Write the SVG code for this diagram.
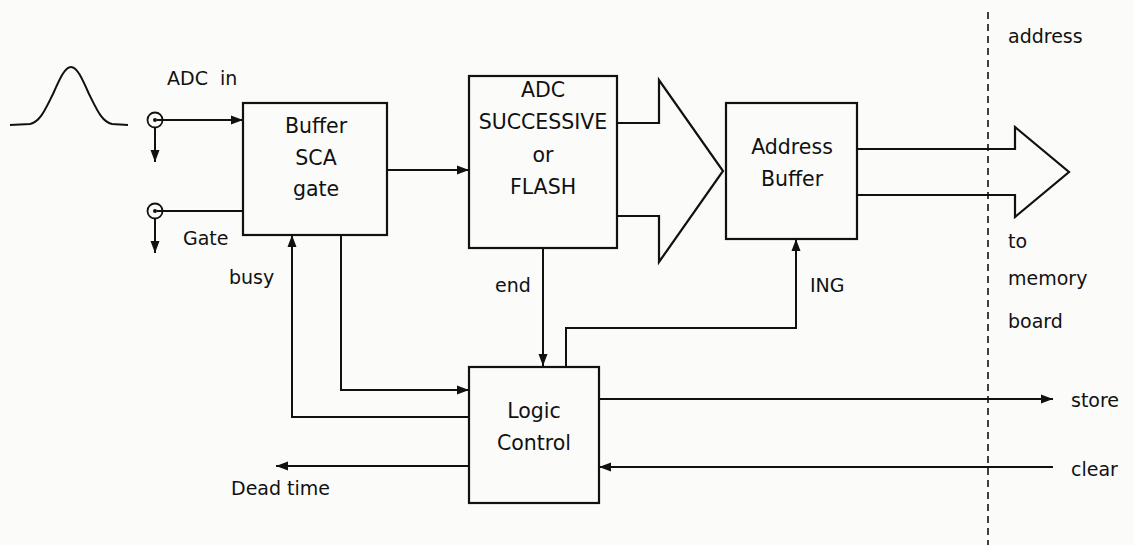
<svg xmlns="http://www.w3.org/2000/svg" width="1134" height="545" viewBox="0 0 1134 545">
<style>
.box{fill:none;stroke:#111;stroke-width:2.2}
.ln{fill:none;stroke:#111;stroke-width:2}
.bus{fill:none;stroke:#111;stroke-width:2.2;stroke-linejoin:miter}
.t{font-family:"DejaVu Sans",sans-serif;font-size:20.5px;fill:#111;text-anchor:middle}
.l{font-family:"DejaVu Sans",sans-serif;font-size:19px;fill:#111}
.dash{stroke:#111;stroke-width:1.6;stroke-dasharray:7 5}
</style>
<defs>
<marker id="ah" markerUnits="userSpaceOnUse" markerWidth="13" markerHeight="10" refX="12" refY="5" orient="auto">
<path d="M0,0.5 L12,5 L0,9.5 Z" fill="#111"/>
</marker>
</defs>
<rect width="1134" height="545" fill="#fbfbf9"/>

<g id="pulse">
<path class="ln" d="M10,125 L30,124 C40,122 45,110 53,94 C60,78 65,67 71,67 C77,67 82,78 89,94 C97,110 102,122 112,124 L128,125" stroke-width="1.8"/>
</g>

<g id="adc-in-connector">
<circle cx="155" cy="120" r="7.5" fill="none" stroke="#111" stroke-width="1.8"/>
<circle cx="155" cy="120" r="2" fill="#111"/>
<text class="l" x="167" y="85" xml:space="preserve">ADC  in</text>
</g>
<g id="gate-connector">
<circle cx="155" cy="211" r="7.5" fill="none" stroke="#111" stroke-width="1.8"/>
<circle cx="155" cy="211" r="2" fill="#111"/>
<text class="l" x="183" y="245">Gate</text>
</g>

<g id="buffer-sca">
<rect class="box" x="243" y="103" width="144" height="132"/>
<text class="t" x="316" y="133">Buffer</text>
<text class="t" x="316" y="165">SCA</text>
<text class="t" x="316" y="196">gate</text>
</g>

<g id="adc">
<rect class="box" x="469" y="76" width="148" height="172"/>
<text class="t" x="543" y="97">ADC</text>
<text class="t" x="543" y="129">SUCCESSIVE</text>
<text class="t" x="543" y="162">or</text>
<text class="t" x="543" y="194">FLASH</text>
</g>

<g id="address-buffer">
<rect class="box" x="726" y="103" width="131" height="136"/>
<text class="t" x="792" y="154">Address</text>
<text class="t" x="792" y="186">Buffer</text>
</g>

<g id="logic-control">
<rect class="box" x="469" y="367" width="130" height="136"/>
<text class="t" x="534" y="418">Logic</text>
<text class="t" x="534" y="450">Control</text>
</g>

<g id="labels">
<text class="l" x="229" y="284">busy</text>
<text class="l" x="495" y="292">end</text>
<text class="l" x="810" y="292">ING</text>
<text class="l" x="231" y="495">Dead time</text>
<text class="l" x="1008" y="43">address</text>
<text class="l" x="1008" y="248">to</text>
<text class="l" x="1008" y="285">memory</text>
<text class="l" x="1008" y="328">board</text>
<text class="l" x="1071" y="407">store</text>
<text class="l" x="1071" y="476">clear</text>
</g>

<g id="connectors">
<line class="ln" x1="157" y1="120" x2="243" y2="120" marker-end="url(#ah)"/>
<line class="ln" x1="155" y1="127.5" x2="155" y2="162" marker-end="url(#ah)"/>
<line class="ln" x1="157" y1="211" x2="243" y2="211"/>
<line class="ln" x1="155" y1="218.5" x2="155" y2="253" marker-end="url(#ah)"/>
<line class="ln" x1="387" y1="170" x2="469" y2="170" marker-end="url(#ah)"/>
<polyline class="ln" points="341,235 341,390 469,390" marker-end="url(#ah)"/>
<polyline class="ln" points="469,417 292,417 292,235" marker-end="url(#ah)"/>
<line class="ln" x1="543" y1="248" x2="543" y2="366" marker-end="url(#ah)"/>
<polyline class="ln" points="566,367 566,328 796,328 796,239" marker-end="url(#ah)"/>
<line class="ln" x1="599" y1="399" x2="1053" y2="399" marker-end="url(#ah)"/>
<line class="ln" x1="1053" y1="467" x2="599" y2="467" marker-end="url(#ah)"/>
<line class="ln" x1="469" y1="466" x2="276" y2="466" marker-end="url(#ah)"/>
<path class="bus" d="M617,123 L659,123 L659,80 L723,171 L659,262 L659,216 L617,216"/>
<path class="bus" d="M857,149 L1015,149 L1015,127 L1069,172 L1015,217 L1015,195 L857,195"/>
<line class="dash" x1="988" y1="12" x2="988" y2="545"/>
</g>
</svg>
